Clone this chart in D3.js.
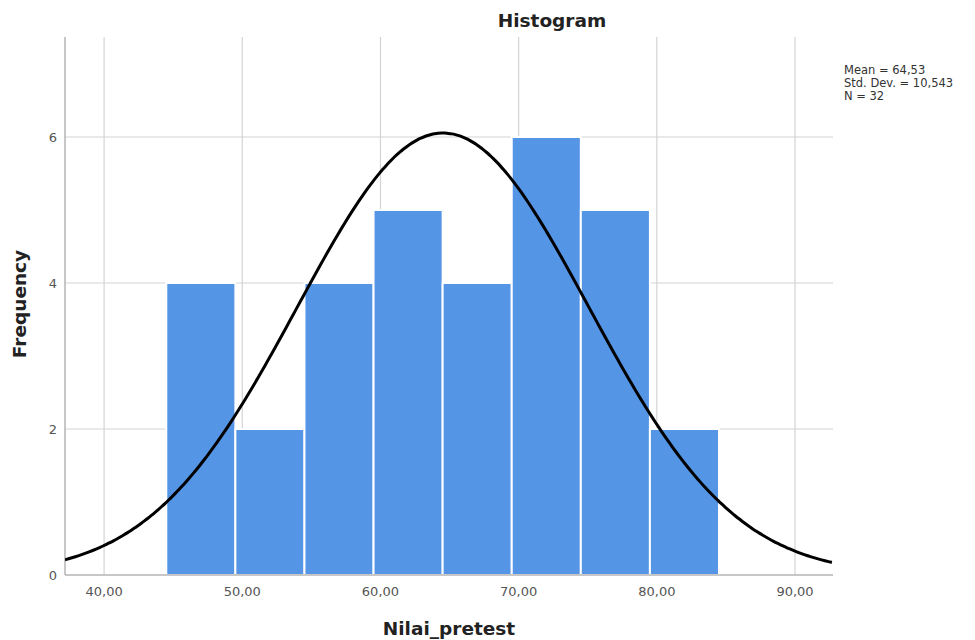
<!DOCTYPE html>
<html>
<head>
<meta charset="utf-8">
<script src="https://cdn.jsdelivr.net/npm/d3@7"></script>
<style>
  body { margin: 0; background: #fff; }
  text { font-family: "DejaVu Sans", sans-serif; }
</style>
</head>
<body>
<svg id="chart" width="975" height="640"></svg>
<script>
// DATA
var binEdges = [44.5, 49.5, 54.5, 59.5, 64.5, 69.5, 74.5, 79.5, 84.5];
var counts = [4, 2, 4, 5, 4, 6, 5, 2];
var xTicks = [40, 50, 60, 70, 80, 90];
var yTicks = [0, 2, 4, 6];
var stats = { mean: 64.53, sd: 10.543, n: 32 };
var statLabels = ["Mean = 64,53", "Std. Dev. = 10,543", "N = 32"];

// LAYOUT
var padL = 65, padR = 833, padT = 37, padB = 575;
var svg = d3.select("#chart");

var x = d3.scaleLinear().domain([37.17, 92.75]).range([padL, padR]);
var y = d3.scaleLinear().domain([0, 7.37]).range([padB, padT]);

// GRID
svg.append("g").selectAll("line").data(xTicks).enter().append("line")
  .attr("x1", function(d) { return x(d); }).attr("x2", function(d) { return x(d); })
  .attr("y1", padT).attr("y2", padB)
  .attr("stroke", "#d4d4d4").attr("stroke-width", 1.2);
svg.append("g").selectAll("line").data(yTicks.slice(1)).enter().append("line")
  .attr("x1", padL).attr("x2", padR)
  .attr("y1", function(d) { return y(d); }).attr("y2", function(d) { return y(d); })
  .attr("stroke", "#d4d4d4").attr("stroke-width", 1.2);

// BARS
var bins = counts.map(function(c, i) { return { x0: binEdges[i], x1: binEdges[i + 1], n: c }; });
svg.append("g").selectAll("rect").data(bins).enter().append("rect")
  .attr("x", function(d) { return x(d.x0); })
  .attr("y", function(d) { return y(d.n); })
  .attr("width", function(d) { return x(d.x1) - x(d.x0); })
  .attr("height", function(d) { return y(0) - y(d.n); })
  .attr("fill", "#5595e5")
  .attr("stroke", "#fff").attr("stroke-width", 2);

// AXES
svg.append("line").attr("x1", padL).attr("x2", padL).attr("y1", padT).attr("y2", padB)
  .attr("stroke", "#b5b5b5").attr("stroke-width", 1.5);
svg.append("line").attr("x1", padL).attr("x2", padR).attr("y1", padB).attr("y2", padB)
  .attr("stroke", "#b5b5b5").attr("stroke-width", 1.5);

svg.append("g").selectAll("text").data(xTicks).enter().append("text")
  .attr("x", function(d) { return x(d); }).attr("y", padB + 21)
  .attr("text-anchor", "middle").attr("font-size", 13).attr("fill", "#555")
  .text(function(d) { return d + ",00"; });
svg.append("g").selectAll("text").data(yTicks).enter().append("text")
  .attr("x", padL - 8).attr("y", function(d) { return y(d) + 5; })
  .attr("text-anchor", "end").attr("font-size", 13).attr("fill", "#555")
  .text(function(d) { return d; });

// NORMAL CURVE
var binW = binEdges[1] - binEdges[0];
var scaleK = stats.n * binW / (stats.sd * Math.sqrt(2 * Math.PI));
var xs = d3.range(x.domain()[0], x.domain()[1] + 0.01, 0.25);
var line = d3.line()
  .x(function(v) { return x(v); })
  .y(function(v) { return y(scaleK * Math.exp(-0.5 * Math.pow((v - stats.mean) / stats.sd, 2))); })
  .curve(d3.curveBasis);
svg.append("clipPath").attr("id", "clip").append("rect")
  .attr("x", padL).attr("y", padT).attr("width", padR - padL).attr("height", padB - padT);
svg.append("path").datum(xs).attr("d", line)
  .attr("clip-path", "url(#clip)")
  .attr("fill", "none").attr("stroke", "#000").attr("stroke-width", 3);

// TITLES
svg.append("text").attr("x", 552).attr("y", 27).attr("text-anchor", "middle")
  .attr("font-size", 18.5).attr("font-weight", "bold").attr("fill", "#222").text("Histogram");
svg.append("text").attr("x", (padL + padR) / 2).attr("y", 635).attr("text-anchor", "middle")
  .attr("font-size", 18.5).attr("font-weight", "bold").attr("fill", "#222").text("Nilai_pretest");
svg.append("text").attr("transform", "translate(26," + ((padT + padB) / 2 - 2) + ") rotate(-90)")
  .attr("text-anchor", "middle")
  .attr("font-size", 18.5).attr("font-weight", "bold").attr("fill", "#222").text("Frequency");

// STATS LEGEND
svg.append("g").selectAll("text").data(statLabels).enter().append("text")
  .attr("x", 844).attr("y", function(d, i) { return 74 + i * 13; })
  .attr("font-size", 11.5).attr("fill", "#333")
  .text(function(d) { return d; });
</script>
</body>
</html>
